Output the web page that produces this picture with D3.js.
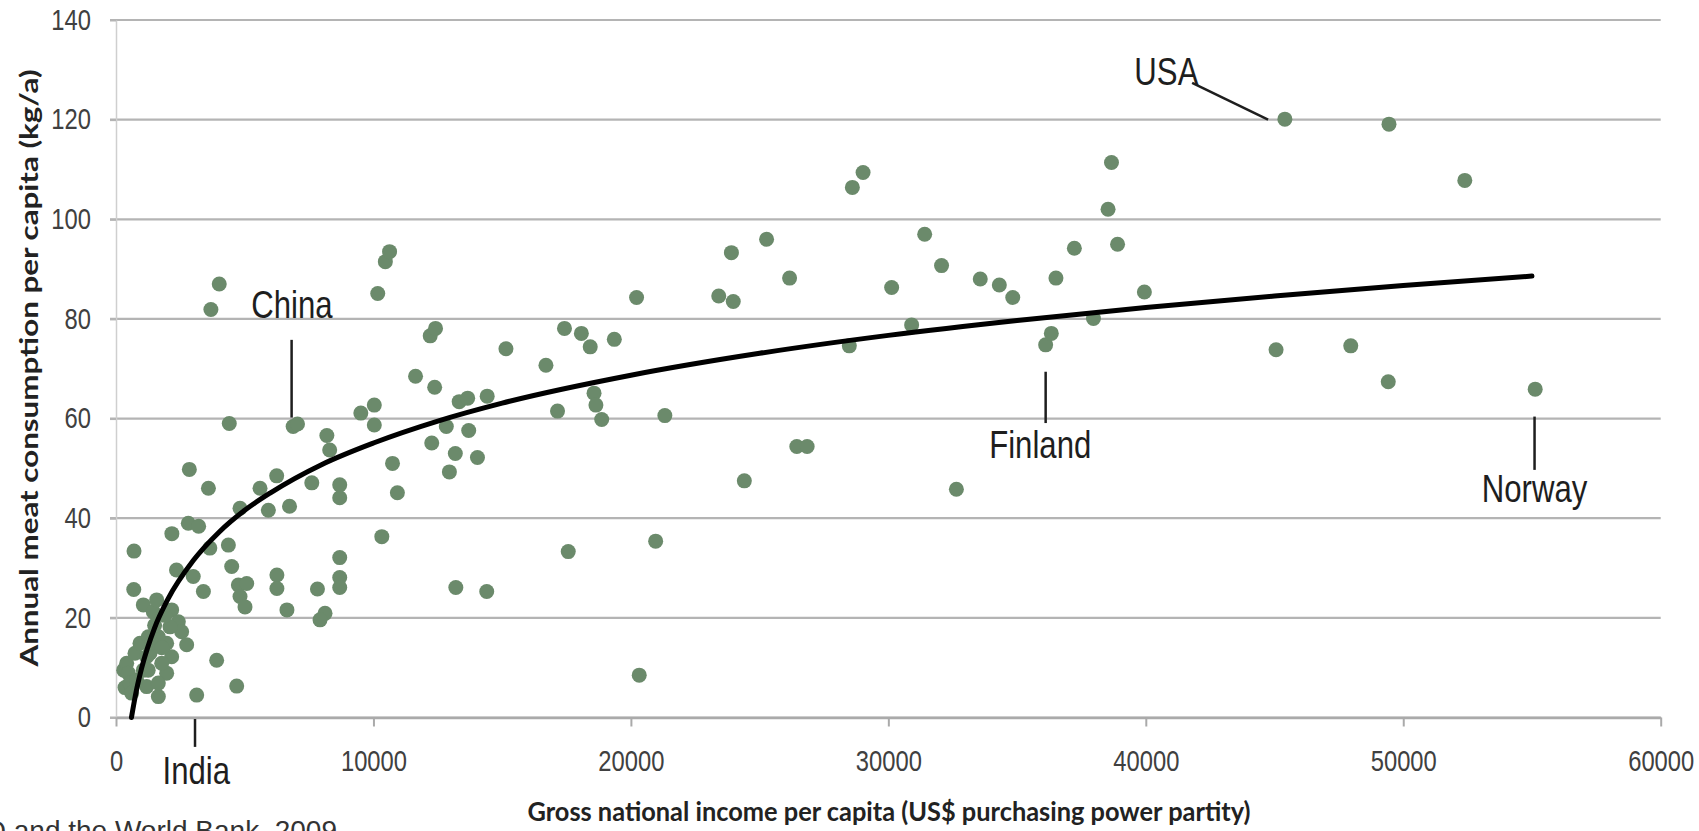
<!DOCTYPE html>
<html><head><meta charset="utf-8">
<script src="https://cdn.jsdelivr.net/npm/d3@7"></script>
<style>html,body{margin:0;padding:0;background:#fff;overflow:hidden}</style>
</head><body>
<svg id="chart" width="1699" height="831"></svg>
<script>
// ---- data ----
const incomeX = [
  300,350,415,479,544,609,738,803,932,1062,1191,1191,1256,1062,1450,1580,2162,2421,2550,2745,
  2098,1968,2162,1968,1774,1645,3134,3910,4688,1321,1644,1644,1500,1900,1400,1780,1250,
  700,690,2849,3590,2170,2808,3210,2350,3000,3395,3645,4365,4494,4753,5077,4817,5011,4817,
  5594,5918,6242,6740,7605,8190,8300,8690,8690,8690,8690,8690,6250,6250,6640,7825,8119,7925,
  4400,6880,7050,4010,3686,
  9510,10033,10033,10166,10462,10626,10325,10740,10930,11635,12205,12411,12378,12264,12830,
  13330,13660,14418,13700,13180,12950,14040,13200,14400,15147,16700,
  17150,17420,18076,18420,19356,18568,18641,18866,17566,20961,20324,21319,20220,
  23412,23976,23904,25270,26164,24406,26444,26846,28484,28602,29018,30128,30904,31411,32066,
  32643,33570,34311,34832,36110,36330,36510,37225,37967,38534,38667,38903,39945,
  45402,49446,52391,45060,47961,49418,55125
];
const meatY = [
  9.5,6.0,10.9,8.9,6.9,4.9,12.9,7.5,14.9,9.5,12.2,6.2,16.2,22.6,21.2,23.6,21.6,19.2,17.2,14.6,
  18.2,14.9,12.2,8.9,10.9,4.2,4.5,11.5,6.3,12.9,16.2,6.9,18.5,20.5,15.0,14.0,9.5,
  33.4,25.7,49.8,46.0,36.9,39.0,38.4,29.6,28.3,25.3,34.0,34.6,30.3,26.6,26.9,24.3,22.2,42.0,
  46.0,41.6,48.5,42.4,47.1,56.6,53.7,46.7,44.1,32.1,28.1,26.1,28.6,25.9,21.6,25.8,20.9,19.6,
  59.0,58.4,58.9,87.0,81.9,
  61.1,62.7,58.7,85.1,91.5,93.5,36.3,51.0,45.1,68.5,76.6,78.1,66.3,55.1,58.4,
  63.4,64.1,64.5,57.6,53.0,49.3,52.2,26.1,25.3,74.0,70.7,
  61.5,78.1,77.1,74.4,75.9,65.1,62.7,59.8,33.3,35.4,8.5,60.6,84.3,
  84.6,83.5,93.3,96.0,88.2,47.5,54.4,54.4,74.6,106.4,109.4,86.3,78.8,97.0,90.7,
  45.8,88.0,86.8,84.3,74.8,77.1,88.2,94.2,80.1,102.0,111.4,95.0,85.4,
  120.1,119.1,107.8,73.8,74.6,67.4,65.9
];
// trend line
const trendIncome = [600,800,1000,1500,2000,3000,4000,5000,6000,8000,10000,12500,15000,20000,25000,30000,35000,40000,45000,50000,55000];
const trendMeat   = [0,5.6,10.0,18.0,23.6,31.5,37.2,41.6,45.1,50.8,55.1,59.5,63.1,68.7,73.1,76.7,79.7,82.3,84.6,86.7,88.6];

const xTicks = [0,10000,20000,30000,40000,50000,60000];
const yTicks = [0,20,40,60,80,100,120,140];

// annotations (data units)
const labelNames = ["China","India","Finland","Norway","USA"];
const labelX     = [6830, 3120, 35900, 55100, 40800];
const labelY     = [80.2, -13.3, 52.1, 43.3, 127.0];
const leadX1     = [6821, 3069, 36110, 55100, 41800];
const leadY1     = [75.8, -0.3, 69.4, 60.4, 127.4];
const leadX2     = [6821, 3069, 36110, 55100, 44750];
const leadY2     = [60.2, -5.9, 59.1, 49.7, 120.0];

const xTitle = "Gross national income per capita (US$ purchasing power partity)";
const yTitle = "Annual meat consumption per capita (kg/a)";
const sourceText = "Source: FAO and the World Bank, 2009";

// ---- drawing ----
const svg = d3.select("#chart");
svg.append("rect").attr("width",1699).attr("height",831).attr("fill","#fff");

const x = d3.scaleLinear().domain([0,60000]).range([116,1660.7]);
const y = d3.scaleLinear().domain([0,140]).range([717.5,20]);

const sans = "'Liberation Sans', Arial, sans-serif";
const K = 0.82; // Arial Narrow proportions
function condense(sel){
  sel.each(function(){
    const t = d3.select(this);
    const xx = +t.attr("x") || 0;
    t.attr("transform", `translate(${xx*(1-K)},0) scale(${K},1)`);
  });
}

// gridlines
svg.append("g").selectAll("line").data(yTicks).join("line")
  .attr("x1", x(0)-6).attr("x2", x(60000))
  .attr("y1", d=>y(d)).attr("y2", d=>y(d))
  .attr("stroke","#b4b4b4").attr("stroke-width",2.2);

// y axis
const gy = svg.append("g").attr("transform",`translate(${x(0)},0)`)
  .call(d3.axisLeft(y).tickValues(yTicks).tickSizeInner(6).tickSizeOuter(0).tickPadding(19).tickFormat(d3.format("d")));
gy.select(".domain").attr("stroke","#cfcfcf").attr("stroke-width",1.5);
gy.selectAll(".tick line").attr("stroke","#b4b4b4").attr("stroke-width",2);
gy.selectAll("text").attr("font-family",sans).attr("font-size",29).attr("fill","#404040").call(condense);

// x axis
const gx = svg.append("g").attr("transform",`translate(0,${y(0)})`)
  .call(d3.axisBottom(x).tickValues(xTicks).tickSizeInner(9).tickSizeOuter(0).tickFormat(d3.format("d")));
gx.select(".domain").attr("stroke","#aaaaaa").attr("stroke-width",2.5);
gx.selectAll(".tick line").attr("stroke","#aaaaaa").attr("stroke-width",2);
gx.selectAll("text").attr("dy",null).attr("y",54)
  .attr("font-family",sans).attr("font-size",29).attr("fill","#404040").call(condense);

// points
const pts = incomeX.map((v,i)=>({gx:v, my:meatY[i]}));
svg.append("g").selectAll("circle").data(pts).join("circle")
  .attr("cx", d=>x(d.gx)).attr("cy", d=>y(d.my)).attr("r",7.5)
  .attr("fill","#6b8a6b");

// trend line
const trend = trendIncome.map((v,i)=>({gx:v, my:trendMeat[i]}));
svg.append("path").datum(trend)
  .attr("d", d3.line().x(d=>x(d.gx)).y(d=>y(d.my)).curve(d3.curveMonotoneX))
  .attr("fill","none").attr("stroke","#000").attr("stroke-width",5).attr("stroke-linecap","round");

// annotations
const ann = labelNames.map((n,i)=>({n, lx:labelX[i], ly:labelY[i], x1:leadX1[i], y1:leadY1[i], x2:leadX2[i], y2:leadY2[i]}));
svg.append("g").selectAll("line").data(ann).join("line")
  .attr("x1",d=>x(d.x1)).attr("y1",d=>y(d.y1)).attr("x2",d=>x(d.x2)).attr("y2",d=>y(d.y2))
  .attr("stroke","#1e1e1e").attr("stroke-width",2.5);
svg.append("g").selectAll("text").data(ann).join("text")
  .attr("x",d=>x(d.lx)).attr("y",d=>y(d.ly)).attr("text-anchor","middle")
  .attr("font-family",sans).attr("font-size",38).attr("fill","#1e1e1e")
  .text(d=>d.n).call(condense);

// axis titles
svg.append("text").attr("x",889).attr("y",821).attr("text-anchor","middle")
  .attr("font-family","Lato, 'Open Sans', sans-serif").attr("font-weight","bold")
  .attr("font-size",27).attr("fill","#222")
  .attr("textLength",723).attr("lengthAdjust","spacingAndGlyphs")
  .text(xTitle);
svg.append("text").attr("transform","translate(38,368) rotate(-90)").attr("text-anchor","middle")
  .attr("font-family","Lato, 'Open Sans', sans-serif").attr("font-weight","bold")
  .attr("font-size",25).attr("fill","#222")
  .attr("textLength",597).attr("lengthAdjust","spacingAndGlyphs")
  .text(yTitle);

// source (cut off at the bottom-left edge, as in the original)
svg.append("text").attr("x",337).attr("y",840).attr("text-anchor","end")
  .attr("font-family",sans).attr("font-size",28).attr("fill","#333")
  .text(sourceText);
</script>
</body></html>
